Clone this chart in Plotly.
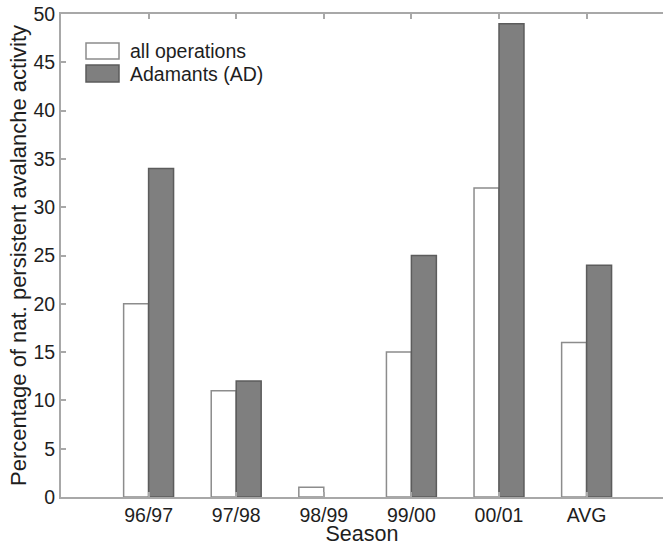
import plotly.graph_objects as go

seasons = ["96/97", "97/98", "98/99", "99/00", "00/01", "AVG"]
all_operations = [20, 11, 1, 15, 32, 16]
adamants = [34, 12, 0, 25, 49, 24]
y_ticks = [0, 5, 10, 15, 20, 25, 30, 35, 40, 45, 50]

W, H = 663, 546
L, R, T, B = 61, 0, 14, 49
plot_w = W - L - R
plot_h = H - T - B
cat_px = 87.6  # pixel spacing between seasons

axis_col = "#a8a8a8"
text_col = "#1e1e1e"
font = "Liberation Sans, Arial, sans-serif"

xpos = list(range(1, len(seasons) + 1))

def edge_widths(values):
    # no outline on empty bars so nothing sits on the baseline
    return [0 if v == 0 else 1.5 for v in values]

fig = go.Figure()
fig.add_trace(go.Bar(
    x=xpos, y=all_operations, name="all operations",
    marker=dict(color="#ffffff",
                line=dict(color="#8c8c8c", width=edge_widths(all_operations))),
))
fig.add_trace(go.Bar(
    x=xpos, y=adamants, name="Adamants (AD)",
    marker=dict(color="#7f7f7f",
                line=dict(color="#5c5c5c", width=edge_widths(adamants))),
))

def px_x(px):
    return (px - L) / plot_w

def px_y(py):
    return 1 - (py - T) / plot_h

# legend drawn as swatches + labels in the upper-left corner
legend_items = [("all operations", "#ffffff", "#8c8c8c", 43, 59),
                ("Adamants (AD)", "#7f7f7f", "#5c5c5c", 65, 82)]
for label, fill, edge, y0, y1 in legend_items:
    fig.add_shape(type="rect", xref="paper", yref="paper",
                  x0=px_x(86), x1=px_x(119), y0=px_y(y1), y1=px_y(y0),
                  fillcolor=fill, line=dict(color=edge, width=1.5))
    fig.add_annotation(xref="paper", yref="paper", x=px_x(128),
                       y=px_y((y0 + y1) / 2), text=label, showarrow=False,
                       xanchor="left", yanchor="middle",
                       font=dict(size=19.5, color=text_col, family=font))

fig.update_layout(
    width=W, height=H,
    margin=dict(l=L, r=R, t=T, b=B, pad=0),
    paper_bgcolor="white", plot_bgcolor="white",
    barmode="group", bargap=0.43, bargroupgap=0.0,
    showlegend=False,
    font=dict(family=font, size=19.5, color=text_col),
    xaxis=dict(
        range=[0, plot_w / cat_px],
        tickmode="array", tickvals=xpos, ticktext=seasons,
        ticks="inside", ticklen=5, tickwidth=1.5, tickcolor=axis_col,
        showline=True, linecolor=axis_col, linewidth=2, mirror="ticks",
        showgrid=False, zeroline=False,
        title=dict(text="Season", standoff=0, font=dict(size=21.5)),
        tickfont=dict(size=19.5),
    ),
    yaxis=dict(
        range=[0, 50],
        tickmode="array", tickvals=y_ticks,
        ticks="inside", ticklen=5, tickwidth=1.5, tickcolor=axis_col,
        showline=True, linecolor=axis_col, linewidth=2,
        showgrid=False, zeroline=False,
        title=dict(text="Percentage of nat. persistent avalanche activity",
                   standoff=1, font=dict(size=22)),
        tickfont=dict(size=19.5),
    ),
)

fig.write_html("out.html")
